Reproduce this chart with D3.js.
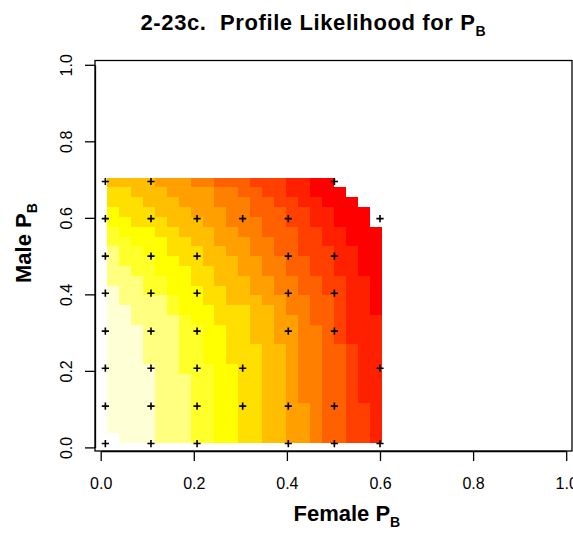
<!DOCTYPE html>
<html><head><meta charset="utf-8">
<script src="https://cdn.jsdelivr.net/npm/d3@7"></script>
<style>
body{margin:0;background:#fff}
text{font-family:"Liberation Sans",Arial,Helvetica,sans-serif;fill:#000;white-space:pre}
</style></head><body>
<svg id="chart" width="573" height="538"></svg>
<script>
// ---- data ----
const xTicks = [0, 0.2, 0.4, 0.6, 0.8, 1.0];
const yTicks = [0, 0.2, 0.4, 0.6, 0.8, 1.0];
// R heat.colors(12), index 0 = red ... 11 = pale
const heatColors = ["#FF0000","#FF2000","#FF4000","#FF6000","#FF8000","#FF9F00",
                    "#FFBF00","#FFDF00","#FFFF00","#FFFF2A","#FFFF80","#FFFFD5"];
// extent of the likelihood image (Female P_B, Male P_B)
const imageX = [0.0135, 0.6035];
const imageY = [0.0125, 0.705];
// colour level per cell, rows top (high Male P_B) to bottom; '.' = no value
const levelRows = [
  "6666555443332221100....",
  "77666555544332211000...",
  "777666555444332211000..",
  "8777666555443332211000.",
  "8877766655444332211000.",
  "98887766655443332211000",
  "99888776655544332211000",
  "a9988777665544332221100",
  "a9998877666554433221100",
  "aa998887766554433221100",
  "aaa99887766655443322110",
  "baa99888776655443322110",
  "baaaa988776665544332110",
  "bbaaa988877766544332110",
  "bbaaaa98877766554332111",
  "bbbaaa99887766554432111",
  "bbbaaa99887766554432111",
  "bbbaaa99887776654433211",
  "bbbaaa99887776654433211",
  "bbbbaa99988776654433211",
  "bbbbaaa9988776654433211",
  "bbbbaaa9988776654433211",
  "bbbbaaa9988776654433211",
  "bbbbaaa9988776655433221",
  "bbbbaaa9988776655433221",
  "bbbbaaa9988776655433221",
  ".bbbaaa9988776655433221"
];
// evaluated grid points (Female P_B, Male P_B)
const pointsFemale = [0.01,0.108,0.207,0.403,0.502,0.6, 0.01,0.108,0.207,0.305,0.403,0.502,
  0.01,0.108,0.207,0.305,0.6, 0.01,0.108,0.207,0.403,0.502, 0.01,0.108,0.207,0.403,0.502,
  0.01,0.108,0.207,0.403,0.502, 0.01,0.108,0.207,0.305,0.403,0.6, 0.01,0.108,0.502];
const pointsMale = [0.01,0.01,0.01,0.01,0.01,0.01, 0.108,0.108,0.108,0.108,0.108,0.108,
  0.207,0.207,0.207,0.207,0.207, 0.304,0.304,0.304,0.304,0.304, 0.403,0.403,0.403,0.403,0.403,
  0.5,0.5,0.5,0.5,0.5, 0.598,0.598,0.598,0.598,0.598,0.598, 0.695,0.695,0.695];

// ---- layout ----
const box = {left: 95, right: 572, top: 60.5, bottom: 451};
const svg = d3.select("#chart");
const x = d3.scaleLinear().domain([0, 1]).range([100.7, 566.2]);
const y = d3.scaleLinear().domain([0, 1]).range([447.4, 64.8]);

// image cells
const nRows = levelRows.length, nCols = levelRows[0].length;
const colEdge = d3.scaleLinear().domain([0, nCols]).range(imageX);
const rowEdge = d3.scaleLinear().domain([0, nRows]).range([imageY[1], imageY[0]]);
const cells = [];
levelRows.forEach((row, r) => {
  row.split("").forEach((ch, c) => {
    if (ch === ".") return;
    cells.push({r, c, level: parseInt(ch, 16)});
  });
});
svg.append("g").attr("shape-rendering", "crispEdges")
  .selectAll("rect").data(cells).join("rect")
  .attr("x", d => x(colEdge(d.c)))
  .attr("y", d => y(rowEdge(d.r)))
  .attr("width", d => x(colEdge(d.c + 1)) - x(colEdge(d.c)))
  .attr("height", d => y(rowEdge(d.r + 1)) - y(rowEdge(d.r)))
  .attr("fill", d => heatColors[d.level]);

// crosses
svg.append("g").selectAll("path").data(pointsFemale.map((f, i) => [f, pointsMale[i]]))
  .join("path")
  .attr("transform", d => `translate(${x(d[0])},${y(d[1])})`)
  .attr("d", "M-3.6,0H3.6M0,-3.6V3.6")
  .attr("stroke", "#000").attr("stroke-width", 1.6).attr("fill", "none");

// box
svg.append("rect").attr("x", box.left).attr("y", box.top)
  .attr("width", box.right - box.left).attr("height", box.bottom - box.top)
  .attr("fill", "none").attr("stroke", "#000").attr("stroke-width", 1.3);

// x axis
const gx = svg.append("g").attr("transform", `translate(0,${box.bottom})`)
  .call(d3.axisBottom(x).tickValues(xTicks).tickFormat(d3.format(".1f")).tickSize(10).tickSizeOuter(0));
gx.selectAll("line").attr("stroke", "#000").attr("stroke-width", 1.3);
gx.select(".domain").attr("stroke", "#000").attr("stroke-width", 1.3);
gx.selectAll("text").attr("y", 38).attr("dy", 0).style("font-size", "16px")
  .style("font-family", '"Liberation Sans",Arial,sans-serif').attr("fill", "#000");

// y axis
const gy = svg.append("g").attr("transform", `translate(${box.left},0)`)
  .call(d3.axisLeft(y).tickValues(yTicks).tickFormat(d3.format(".1f")).tickSize(10).tickSizeOuter(0));
gy.selectAll("line").attr("stroke", "#000").attr("stroke-width", 1.3);
gy.select(".domain").attr("stroke", "#000").attr("stroke-width", 1.3);
gy.selectAll("text").attr("x", 0).attr("dy", 0).attr("y", 0)
  .attr("text-anchor", "middle")
  .attr("transform", "translate(-23,0) rotate(-90)")
  .style("font-size", "16px").style("font-family", '"Liberation Sans",Arial,sans-serif').attr("fill", "#000");

// titles
function subText(sel, main, sub, targetWidth) {
  const m = sel.append("tspan").text(main);
  if (targetWidth) {
    const w = m.node().getComputedTextLength();
    m.attr("letter-spacing", ((targetWidth - w) / main.length).toFixed(2) + "px");
  }
  sel.append("tspan").text(sub).attr("font-size", "14px").attr("dy", 6).attr("letter-spacing", "0px");
}
const title = svg.append("text").attr("x", 140.5).attr("y", 30)
  .attr("font-weight", "bold").attr("font-size", "22px");
subText(title, "2-23c.  Profile Likelihood for P", "B", 335);

const xl = svg.append("text").attr("x", 293.5).attr("y", 521)
  .attr("font-weight", "bold").attr("font-size", "22px");
subText(xl, "Female P", "B");

const yl = svg.append("text").attr("transform", "translate(31,283) rotate(-90)")
  .attr("font-weight", "bold").attr("font-size", "22px");
subText(yl, "Male P", "B");
</script>
</body></html>
